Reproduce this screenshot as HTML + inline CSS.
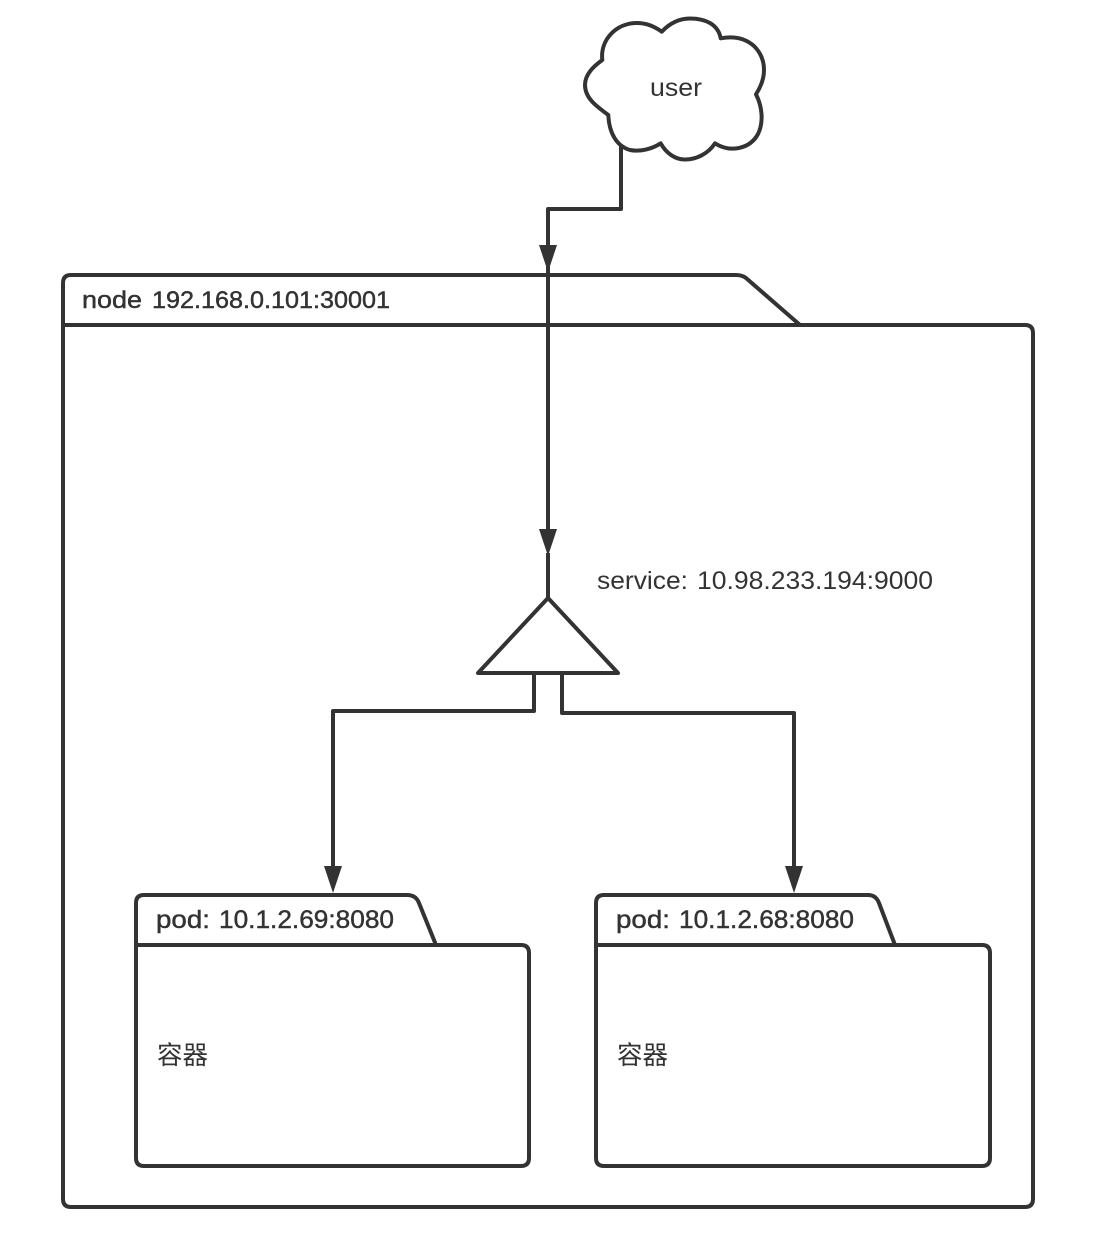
<!DOCTYPE html>
<html>
<head>
<meta charset="utf-8">
<style>
html,body{margin:0;padding:0;background:#fff;width:1096px;height:1254px;overflow:hidden}
svg{display:block}
text{font-family:"Liberation Sans","Noto Sans CJK SC",sans-serif;fill:#333}
.b{stroke:#333;stroke-width:.45px}
</style>
</head>
<body>
<svg width="1096" height="1254" viewBox="0 0 1096 1254" xmlns="http://www.w3.org/2000/svg">
<g fill="none" stroke="#333" stroke-width="4" stroke-linejoin="round">
  <path d="M661.7 31.7C670 23 680 18.5 690 18.5C705 18.5 718 24 720.7 38.3C733 36 745 38 754 46C762 54 764 62 764 70C764 80 760 88 756 94.3C762 106 764 122 758 134C750 149 730 153 715 143.3C708 154 696 159.5 685 159.5C675 159.5 666 153 660.7 143.3C652 149 640 152 630 150C616 146 609 132 608.3 115C596 106 585 98 585 85C585 74 594 66 602.3 60C600 40 616 23 637 23C646 23 654 26 661.7 31.7Z"/>
  <path d="M621 146V209H548V272M548 272V530M548 553V598"/>
  <path d="M63 325V283Q63 275 71 275H736Q742 275 746 278L800 325M63 325H1025Q1033 325 1033 333V1199Q1033 1207 1025 1207H71Q63 1207 63 1199Z"/>
  <path d="M548 598L478 673H618Z"/>
  <path d="M534 673V711H333V867M562 673V713H794V867"/>
  <path d="M136 945V903Q136 895 144 895H407Q416 895 419 903L436 945M136 945H521Q529 945 529 953V1158Q529 1166 521 1166H144Q136 1166 136 1158Z"/>
  <path d="M596 945V903Q596 895 604 895H868Q876 895 879 903L895 945M596 945H982Q990 945 990 953V1158Q990 1166 982 1166H604Q596 1166 596 1158Z"/>
</g>
<g fill="#333">
  <polygon points="539,245 557,245 548,272"/>
  <polygon points="539,529 557,529 548,556"/>
  <polygon points="324,866 342,866 333,893"/>
  <polygon points="785,866 803,866 794,893"/>
</g>
<text x="650" y="96" font-size="25" textLength="52" lengthAdjust="spacingAndGlyphs">user</text>
<text class="b" x="82" y="308" font-size="24" textLength="60" lengthAdjust="spacingAndGlyphs">node</text>
<text class="b" x="152" y="308" font-size="24" textLength="238" lengthAdjust="spacingAndGlyphs">192.168.0.101:30001</text>
<text x="597" y="589" font-size="25" textLength="91" lengthAdjust="spacingAndGlyphs">service:</text>
<text x="697" y="589" font-size="25" textLength="236" lengthAdjust="spacingAndGlyphs">10.98.233.194:9000</text>
<text class="b" x="156" y="928" font-size="25" textLength="54" lengthAdjust="spacingAndGlyphs">pod:</text>
<text class="b" x="219" y="928" font-size="25" textLength="175" lengthAdjust="spacingAndGlyphs">10.1.2.69:8080</text>
<text class="b" x="616" y="928" font-size="25" textLength="54" lengthAdjust="spacingAndGlyphs">pod:</text>
<text class="b" x="679" y="928" font-size="25" textLength="175" lengthAdjust="spacingAndGlyphs">10.1.2.68:8080</text>
<text x="157" y="1064" font-size="25.5">容器</text>
<text x="617" y="1064" font-size="25.5">容器</text>
</svg>
</body>
</html>
